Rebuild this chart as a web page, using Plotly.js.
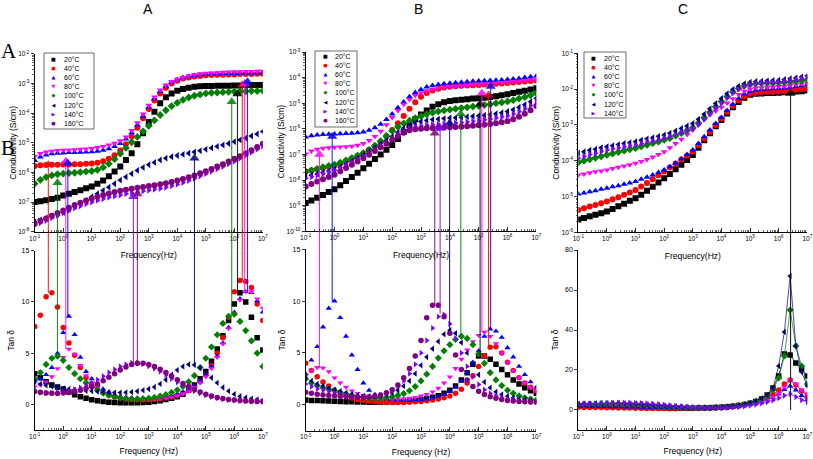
<!DOCTYPE html>
<html><head><meta charset="utf-8">
<script src="https://cdn.plot.ly/plotly-3.0.1.min.js"></script>
<style>html,body{margin:0;padding:0;background:#fff}#chart{width:813px;height:459px}</style>
</head><body><div id="chart"></div>
<script>
// ---------- DATA ----------
const freq = [0.1,0.158,0.251,0.398,0.631,1,1.58,2.51,3.98,6.31,10,15.8,25.1,39.8,63.1,100,158,251,398,631,1000,1580,2510,3980,6310,1e4,1.58e4,2.51e4,3.98e4,6.31e4,1e5,1.58e5,2.51e5,3.98e5,6.31e5,1e6,1.58e6,2.51e6,3.98e6,6.31e6,1e7];
const temps = ['20°C','40°C','60°C','80°C','100°C','120°C','140°C','160°C'];

// Panel A, conductivity (log10 of S/cm)
const logCondA20 = [-7.00,-6.97,-6.94,-6.90,-6.85,-6.78,-6.72,-6.66,-6.60,-6.53,-6.47,-6.38,-6.27,-6.13,-5.97,-5.80,-5.58,-5.35,-5.05,-4.68,-4.30,-3.95,-3.66,-3.46,-3.33,-3.24,-3.18,-3.14,-3.11,-3.09,-3.08,-3.08,-3.07,-3.07,-3.07,-3.06,-3.06,-3.05,-3.05,-3.05,-3.05];
const logCondA40 = [-5.78,-5.76,-5.75,-5.74,-5.74,-5.73,-5.73,-5.72,-5.72,-5.71,-5.70,-5.67,-5.62,-5.54,-5.42,-5.26,-5.05,-4.79,-4.49,-4.17,-3.86,-3.57,-3.33,-3.14,-3.00,-2.90,-2.83,-2.79,-2.76,-2.74,-2.72,-2.71,-2.70,-2.70,-2.69,-2.69,-2.68,-2.68,-2.68,-2.67,-2.67];
const logCondA60 = [-5.60,-5.48,-5.41,-5.37,-5.35,-5.34,-5.33,-5.33,-5.32,-5.31,-5.30,-5.28,-5.25,-5.20,-5.12,-5.02,-4.87,-4.66,-4.40,-4.10,-3.80,-3.51,-3.27,-3.09,-2.96,-2.87,-2.80,-2.76,-2.73,-2.70,-2.69,-2.68,-2.67,-2.66,-2.66,-2.65,-2.65,-2.64,-2.64,-2.63,-2.63];
const logCondA80 = [-5.45,-5.36,-5.31,-5.28,-5.26,-5.25,-5.24,-5.23,-5.22,-5.21,-5.19,-5.16,-5.12,-5.07,-5.01,-4.93,-4.80,-4.58,-4.32,-4.03,-3.73,-3.45,-3.22,-3.05,-2.93,-2.85,-2.79,-2.74,-2.70,-2.67,-2.65,-2.64,-2.63,-2.62,-2.61,-2.60,-2.60,-2.59,-2.59,-2.58,-2.58];
const logCondA100 = [-6.38,-6.25,-6.16,-6.10,-6.06,-6.04,-6.02,-6.01,-5.99,-5.97,-5.95,-5.91,-5.83,-5.71,-5.55,-5.36,-5.17,-4.98,-4.80,-4.61,-4.43,-4.24,-4.06,-3.90,-3.76,-3.65,-3.55,-3.47,-3.41,-3.37,-3.33,-3.31,-3.30,-3.29,-3.28,-3.27,-3.26,-3.26,-3.25,-3.25,-3.24];
const logCondA120 = [-7.67,-7.60,-7.54,-7.47,-7.41,-7.35,-7.25,-7.15,-7.05,-6.95,-6.82,-6.72,-6.61,-6.50,-6.38,-6.26,-6.15,-6.04,-5.93,-5.83,-5.74,-5.66,-5.58,-5.52,-5.47,-5.43,-5.39,-5.35,-5.31,-5.27,-5.22,-5.17,-5.12,-5.07,-5.02,-4.96,-4.90,-4.84,-4.77,-4.70,-4.62];
const logCondA140 = [-7.78,-7.70,-7.62,-7.53,-7.45,-7.36,-7.28,-7.20,-7.13,-7.06,-7.00,-6.94,-6.89,-6.84,-6.80,-6.76,-6.72,-6.69,-6.66,-6.63,-6.60,-6.57,-6.54,-6.50,-6.45,-6.40,-6.34,-6.27,-6.20,-6.12,-6.04,-5.96,-5.88,-5.80,-5.71,-5.62,-5.52,-5.42,-5.32,-5.22,-5.12];
const logCondA160 = [-7.72,-7.63,-7.55,-7.46,-7.37,-7.28,-7.19,-7.10,-7.02,-6.95,-6.88,-6.82,-6.76,-6.71,-6.66,-6.62,-6.58,-6.55,-6.52,-6.49,-6.46,-6.43,-6.40,-6.36,-6.32,-6.27,-6.22,-6.16,-6.10,-6.03,-5.96,-5.88,-5.80,-5.72,-5.63,-5.54,-5.45,-5.35,-5.25,-5.14,-5.03];

// Panel A, tan delta
const tanA20 = [3.0,2.6,2.2,1.9,1.7,1.5,1.2,0.95,0.75,0.6,0.45,0.35,0.28,0.22,0.18,0.16,0.15,0.15,0.16,0.18,0.22,0.28,0.36,0.48,0.6,0.75,1.0,1.4,1.9,2.5,3.2,4.2,5.4,6.7,8.2,9.8,10.9,10.0,8.5,6.5,5.3];
const tanA40 = [7.6,8.7,10.5,10.9,9.5,7.5,6.0,4.8,3.6,2.6,2.0,1.5,1.15,0.9,0.72,0.6,0.52,0.47,0.45,0.45,0.47,0.5,0.56,0.64,0.75,0.9,1.1,1.35,1.7,2.2,2.9,3.8,5.0,6.5,8.5,11.0,12.1,12.0,11.4,9.8,8.2];
const tanA60 = [2.3,2.5,2.9,3.6,5.0,7.0,8.6,6.8,4.6,3.2,2.5,1.9,1.5,1.2,0.95,0.8,0.7,0.65,0.62,0.62,0.63,0.66,0.7,0.78,0.88,1.0,1.2,1.45,1.8,2.3,2.9,3.7,4.7,6.0,7.5,9.0,10.3,11.0,10.9,10.1,9.0];
const tanA80 = [1.7,1.9,2.2,2.7,3.5,4.6,5.4,4.9,3.8,2.8,2.1,1.6,1.25,1.0,0.8,0.65,0.55,0.5,0.47,0.46,0.47,0.5,0.55,0.62,0.72,0.85,1.05,1.3,1.65,2.1,2.7,3.5,4.6,5.9,7.4,8.9,10.2,11.0,11.0,10.3,9.4];
const tanA100 = [2.5,3.1,3.9,4.5,4.7,4.3,3.6,3.0,2.5,2.1,1.7,1.4,1.1,0.9,0.75,0.62,0.55,0.52,0.52,0.55,0.6,0.68,0.8,0.95,1.15,1.4,1.75,2.2,2.8,3.6,4.5,5.6,6.8,7.9,8.6,8.8,8.1,7.2,6.2,5.0,3.7];
const tanA120 = [2.2,2.0,1.85,1.75,1.65,1.55,1.5,1.42,1.37,1.33,1.3,1.25,1.2,1.17,1.15,1.15,1.17,1.2,1.28,1.38,1.5,1.7,2.0,2.4,2.9,3.35,3.7,3.9,3.85,3.55,3.1,2.6,2.1,1.65,1.3,1.0,0.8,0.65,0.55,0.48,0.42];
const tanA140 = [1.2,1.15,1.12,1.12,1.15,1.22,1.32,1.45,1.62,1.85,2.1,2.4,2.75,3.1,3.4,3.7,3.9,4.05,4.05,3.95,3.75,3.5,3.2,2.85,2.5,2.15,1.85,1.55,1.3,1.08,0.9,0.75,0.62,0.52,0.45,0.4,0.35,0.32,0.3,0.28,0.26];
const tanA160 = [1.25,1.18,1.12,1.08,1.07,1.1,1.16,1.25,1.38,1.55,1.75,2.0,2.3,2.65,3.0,3.35,3.65,3.9,4.02,4.02,3.9,3.7,3.42,3.1,2.75,2.4,2.05,1.75,1.45,1.2,1.0,0.82,0.68,0.57,0.48,0.42,0.37,0.33,0.3,0.28,0.27];

// Panel B, conductivity (log10 of S/cm)
const logCondB20 = [-8.90,-8.80,-8.69,-8.58,-8.47,-8.36,-8.20,-8.04,-7.88,-7.71,-7.54,-7.36,-7.18,-7.00,-6.82,-6.63,-6.40,-6.12,-5.86,-5.63,-5.44,-5.28,-5.14,-5.04,-4.96,-4.91,-4.88,-4.86,-4.84,-4.82,-4.81,-4.79,-4.76,-4.73,-4.69,-4.65,-4.60,-4.55,-4.51,-4.46,-4.42];
const logCondB40 = [-7.67,-7.63,-7.58,-7.53,-7.48,-7.43,-7.35,-7.26,-7.16,-7.06,-6.95,-6.82,-6.67,-6.50,-6.29,-6.05,-5.78,-5.50,-5.22,-4.96,-4.75,-4.60,-4.50,-4.43,-4.39,-4.36,-4.34,-4.32,-4.31,-4.30,-4.29,-4.27,-4.26,-4.24,-4.23,-4.21,-4.19,-4.17,-4.15,-4.13,-4.11];
const logCondB60 = [-6.32,-6.27,-6.24,-6.22,-6.21,-6.20,-6.19,-6.18,-6.17,-6.15,-6.12,-6.06,-5.96,-5.82,-5.64,-5.42,-5.18,-4.95,-4.75,-4.58,-4.46,-4.37,-4.31,-4.27,-4.24,-4.22,-4.20,-4.18,-4.16,-4.14,-4.13,-4.12,-4.11,-4.10,-4.09,-4.07,-4.05,-4.03,-4.00,-3.97,-3.94];
const logCondB80 = [-6.98,-6.87,-6.80,-6.76,-6.74,-6.72,-6.71,-6.70,-6.68,-6.64,-6.57,-6.46,-6.30,-6.09,-5.84,-5.56,-5.28,-5.04,-4.85,-4.70,-4.59,-4.51,-4.45,-4.41,-4.38,-4.36,-4.34,-4.32,-4.30,-4.28,-4.27,-4.25,-4.23,-4.21,-4.19,-4.17,-4.15,-4.13,-4.11,-4.09,-4.07];
const logCondB100 = [-7.67,-7.62,-7.56,-7.50,-7.45,-7.40,-7.32,-7.23,-7.14,-7.05,-6.95,-6.82,-6.66,-6.48,-6.28,-6.08,-5.92,-5.79,-5.68,-5.58,-5.50,-5.43,-5.37,-5.32,-5.28,-5.25,-5.22,-5.19,-5.16,-5.13,-5.10,-5.07,-5.04,-5.00,-4.97,-4.93,-4.88,-4.82,-4.76,-4.69,-4.61];
const logCondB120 = [-7.86,-7.81,-7.76,-7.70,-7.65,-7.59,-7.49,-7.38,-7.27,-7.15,-7.02,-6.88,-6.74,-6.59,-6.45,-6.30,-6.14,-5.98,-5.86,-5.77,-5.71,-5.67,-5.64,-5.62,-5.60,-5.58,-5.57,-5.55,-5.53,-5.51,-5.49,-5.47,-5.44,-5.41,-5.37,-5.32,-5.25,-5.16,-5.06,-4.94,-4.81];
const logCondB140 = [-7.93,-7.87,-7.81,-7.75,-7.69,-7.62,-7.52,-7.41,-7.30,-7.19,-7.07,-6.94,-6.80,-6.66,-6.52,-6.37,-6.22,-6.09,-5.99,-5.93,-5.89,-5.86,-5.84,-5.82,-5.80,-5.78,-5.77,-5.75,-5.73,-5.70,-5.68,-5.65,-5.62,-5.58,-5.54,-5.49,-5.42,-5.33,-5.22,-5.09,-4.95];
const logCondB160 = [-8.25,-8.15,-8.06,-7.97,-7.88,-7.79,-7.66,-7.53,-7.40,-7.28,-7.15,-7.01,-6.87,-6.72,-6.58,-6.43,-6.28,-6.15,-6.06,-6.02,-6.00,-5.98,-5.97,-5.96,-5.95,-5.94,-5.93,-5.92,-5.90,-5.88,-5.86,-5.84,-5.81,-5.78,-5.74,-5.70,-5.63,-5.53,-5.41,-5.27,-5.11];

// Panel B, tan delta
const tanB20 = [0.45,0.42,0.4,0.38,0.36,0.34,0.32,0.3,0.28,0.27,0.26,0.25,0.25,0.25,0.26,0.27,0.29,0.32,0.36,0.42,0.5,0.6,0.72,0.88,1.1,1.4,1.8,2.4,3.1,3.9,4.7,4.7,4.4,3.9,3.4,2.9,2.4,2.0,1.65,1.35,1.1];
const tanB40 = [4.0,3.3,2.7,2.2,1.8,1.4,1.1,0.85,0.65,0.5,0.4,0.33,0.28,0.25,0.23,0.22,0.22,0.23,0.25,0.28,0.32,0.38,0.45,0.55,0.68,0.85,1.1,1.5,2.1,2.8,3.7,4.7,5.55,5.6,5.0,4.1,3.3,2.6,2.1,1.7,1.35];
const tanB60 = [3.0,4.3,5.6,7.5,9.3,10.0,8.4,6.6,4.8,3.4,2.1,1.4,1.0,0.75,0.6,0.5,0.45,0.42,0.42,0.44,0.48,0.55,0.65,0.8,1.0,1.3,1.7,2.3,3.1,4.1,5.2,6.6,7.3,7.1,6.5,5.5,4.6,3.7,2.9,2.2,1.7];
const tanB80 = [2.8,3.3,3.6,3.55,3.2,2.6,2.1,1.7,1.35,1.1,0.9,0.75,0.65,0.58,0.55,0.54,0.55,0.58,0.64,0.72,0.85,1.0,1.25,1.6,2.1,2.7,3.5,4.4,5.3,6.1,6.7,7.0,6.6,5.9,5.0,4.1,3.3,2.6,2.1,1.65,1.3];
const tanB100 = [2.5,2.1,1.85,1.65,1.5,1.38,1.2,1.05,0.92,0.8,0.72,0.66,0.64,0.65,0.7,0.78,0.9,1.08,1.35,1.75,2.3,2.95,3.7,4.5,5.2,5.8,6.3,6.6,6.4,5.8,4.9,4.0,3.1,2.4,1.85,1.4,1.1,0.85,0.68,0.55,0.45];
const tanB120 = [2.65,2.3,2.0,1.8,1.6,1.45,1.3,1.15,1.02,0.92,0.85,0.82,0.83,0.88,0.98,1.15,1.4,1.8,2.3,3.0,3.8,4.6,5.4,6.1,6.8,7.2,6.9,6.0,5.0,3.9,2.9,2.2,1.65,1.25,1.0,0.82,0.68,0.57,0.49,0.43,0.38];
const tanB140 = [2.0,1.75,1.55,1.4,1.27,1.15,1.02,0.92,0.84,0.78,0.75,0.76,0.82,0.92,1.1,1.35,1.75,2.3,3.0,3.9,5.0,6.2,7.4,8.5,8.7,7.8,6.4,5.0,3.7,2.7,1.95,1.45,1.1,0.85,0.68,0.56,0.47,0.4,0.35,0.31,0.28];
const tanB160 = [1.2,1.1,1.02,0.95,0.9,0.86,0.82,0.78,0.75,0.72,0.72,0.75,0.82,0.95,1.15,1.45,1.9,2.6,3.5,4.7,6.2,8.4,9.6,9.6,8.5,6.9,4.8,3.4,2.4,1.75,1.3,1.0,0.78,0.62,0.5,0.42,0.36,0.32,0.29,0.27,0.25];

// Panel C, conductivity (log10 of S/cm)
const logCondC20 = [-5.64,-5.60,-5.55,-5.51,-5.47,-5.42,-5.35,-5.27,-5.20,-5.12,-5.05,-4.95,-4.84,-4.73,-4.61,-4.49,-4.37,-4.24,-4.11,-3.98,-3.84,-3.64,-3.43,-3.23,-3.04,-2.86,-2.68,-2.51,-2.36,-2.24,-2.16,-2.13,-2.12,-2.11,-2.11,-2.10,-2.09,-2.08,-2.07,-2.06,-2.04];
const logCondC40 = [-5.38,-5.33,-5.28,-5.24,-5.19,-5.14,-5.08,-5.02,-4.95,-4.89,-4.82,-4.72,-4.62,-4.52,-4.41,-4.30,-4.19,-4.08,-3.97,-3.86,-3.75,-3.57,-3.38,-3.19,-3.00,-2.82,-2.64,-2.47,-2.32,-2.20,-2.13,-2.10,-2.09,-2.08,-2.08,-2.07,-2.06,-2.04,-2.02,-2.00,-1.98];
const logCondC60 = [-4.93,-4.90,-4.87,-4.84,-4.80,-4.77,-4.73,-4.70,-4.66,-4.62,-4.58,-4.52,-4.46,-4.40,-4.33,-4.26,-4.17,-4.07,-3.95,-3.83,-3.70,-3.52,-3.33,-3.14,-2.96,-2.79,-2.60,-2.42,-2.26,-2.14,-2.07,-2.03,-2.01,-2.00,-1.99,-1.98,-1.97,-1.95,-1.93,-1.91,-1.88];
const logCondC80 = [-4.40,-4.37,-4.34,-4.31,-4.29,-4.26,-4.22,-4.18,-4.15,-4.11,-4.07,-4.02,-3.97,-3.90,-3.83,-3.75,-3.64,-3.52,-3.40,-3.27,-3.14,-3.00,-2.85,-2.72,-2.61,-2.51,-2.39,-2.27,-2.15,-2.06,-2.00,-1.97,-1.96,-1.95,-1.94,-1.93,-1.92,-1.90,-1.88,-1.86,-1.84];
const logCondC100 = [-4.05,-4.00,-3.96,-3.92,-3.88,-3.84,-3.80,-3.76,-3.72,-3.68,-3.65,-3.60,-3.56,-3.51,-3.47,-3.42,-3.37,-3.30,-3.23,-3.16,-3.08,-2.95,-2.80,-2.64,-2.49,-2.35,-2.21,-2.08,-1.98,-1.91,-1.87,-1.85,-1.84,-1.83,-1.83,-1.82,-1.81,-1.80,-1.78,-1.76,-1.74];
const logCondC120 = [-3.79,-3.75,-3.71,-3.68,-3.64,-3.61,-3.58,-3.55,-3.52,-3.50,-3.47,-3.43,-3.39,-3.36,-3.32,-3.28,-3.23,-3.17,-3.10,-3.03,-2.96,-2.84,-2.70,-2.55,-2.40,-2.26,-2.13,-2.01,-1.92,-1.85,-1.81,-1.79,-1.78,-1.77,-1.76,-1.75,-1.73,-1.71,-1.69,-1.66,-1.63];
const logCondC140 = [-3.93,-3.88,-3.83,-3.79,-3.74,-3.70,-3.67,-3.64,-3.61,-3.58,-3.56,-3.52,-3.48,-3.45,-3.41,-3.37,-3.32,-3.27,-3.21,-3.16,-3.10,-2.98,-2.84,-2.69,-2.54,-2.40,-2.25,-2.11,-2.00,-1.92,-1.87,-1.84,-1.83,-1.82,-1.81,-1.80,-1.78,-1.76,-1.73,-1.70,-1.67];

// Panel C, tan delta
const tanC20 = [2.0,2.0,1.9,1.9,1.85,1.8,1.75,1.7,1.6,1.5,1.4,1.3,1.2,1.1,1.0,0.95,0.9,0.85,0.85,0.85,0.9,0.95,1.0,1.1,1.25,1.4,1.6,1.9,2.3,2.8,3.4,4.3,5.5,7.5,11.0,17.0,28.0,27.5,23.5,20.5,17.0];
const tanC40 = [1.3,1.3,1.25,1.2,1.2,1.15,1.1,1.05,1.0,0.95,0.9,0.85,0.8,0.75,0.72,0.7,0.68,0.68,0.7,0.72,0.76,0.82,0.9,1.0,1.15,1.3,1.5,1.8,2.2,2.7,3.3,4.0,5.0,6.2,7.8,10.0,13.0,15.0,12.5,9.5,7.0];
const tanC60 = [1.8,1.8,1.75,1.7,1.7,1.65,1.6,1.55,1.5,1.45,1.4,1.35,1.3,1.25,1.2,1.15,1.1,1.05,1.0,1.0,1.0,1.0,1.05,1.1,1.2,1.3,1.45,1.65,1.95,2.3,2.8,3.4,4.2,5.1,6.3,8.0,10.2,12.0,10.0,7.2,5.2];
const tanC80 = [2.4,2.4,2.45,2.5,2.5,2.55,2.55,2.5,2.45,2.4,2.3,2.2,2.05,1.9,1.75,1.6,1.45,1.3,1.2,1.1,1.05,1.0,1.0,1.05,1.1,1.2,1.35,1.55,1.85,2.2,2.7,3.3,4.1,5.1,6.4,8.2,11.5,15.0,13.0,10.0,8.0];
const tanC100 = [2.8,2.9,2.95,3.0,3.05,3.1,3.1,3.05,3.0,2.9,2.8,2.65,2.5,2.3,2.1,1.9,1.7,1.5,1.35,1.2,1.1,1.05,1.05,1.1,1.2,1.35,1.55,1.85,2.2,2.7,3.3,4.2,5.4,7.0,10.0,16.0,27.0,50.0,32.0,22.0,13.0];
const tanC120 = [3.0,3.1,3.2,3.3,3.35,3.4,3.4,3.35,3.3,3.2,3.1,2.95,2.8,2.6,2.4,2.15,1.9,1.7,1.5,1.35,1.2,1.1,1.1,1.15,1.25,1.4,1.6,1.9,2.3,2.8,3.5,4.5,5.8,7.5,11.0,22.0,39.0,67.0,32.0,19.0,12.0];
const tanC140 = [3.0,3.1,3.2,3.3,3.4,3.5,3.55,3.6,3.6,3.6,3.55,3.45,3.3,3.1,2.85,2.6,2.3,2.0,1.75,1.5,1.3,1.15,1.05,1.0,1.0,1.05,1.15,1.3,1.5,1.8,2.2,2.7,3.3,4.0,4.9,6.0,7.2,8.0,6.5,5.0,4.0];

// Relaxation-peak arrows: frequency, series index, conductivity at arrowhead (log10), tan delta at peak
const arrowAFreq = [0.30,0.63,1.23,1.45,288,398,4.0e4,8.1e5,1.29e6,1.9e6,2.3e6,2.9e6];
const arrowASeries = [1,4,3,2,6,7,5,4,0,1,3,2];
const arrowALogCond = [-5.74,-6.35,-5.62,-5.69,-6.82,-6.73,-5.52,-3.61,-3.35,-3.05,-3.00,-2.94];
const arrowATan = [10.9,4.7,5.4,8.6,4.05,4.05,3.9,8.7,10.9,12.1,11.0,11.0];

const arrowBFreq = [0.30,0.83,3.0e3,4.6e3,9.8e3,2.4e4,1.12e5,1.29e5,2.2e5,2.6e5];
const arrowBSeries = [3,2,7,6,5,4,0,3,1,2];
const arrowBLogCond = [-7.00,-6.30,-6.17,-5.98,-5.78,-5.42,-5.03,-4.61,-4.68,-4.35];
const arrowBTan = [3.6,10.0,9.7,8.8,7.2,6.6,4.75,7.0,5.6,7.3];

const arrowCFreq = [2.6e6];
const arrowCSeries = [0];
const arrowCLogCond = [-2.12];
const arrowCTan = [0];

// Tick labels
const freqTickVals = [0.1,1,10,100,1000,1e4,1e5,1e6,1e7];
const freqTickText = ['10<sup>-1</sup>','10<sup>0</sup>','10<sup>1</sup>','10<sup>2</sup>','10<sup>3</sup>','10<sup>4</sup>','10<sup>5</sup>','10<sup>6</sup>','10<sup>7</sup>'];
const condTickValsA = [1e-8,1e-7,1e-6,1e-5,1e-4,1e-3,1e-2];
const condTickTextA = ['10<sup>-8</sup>','10<sup>-7</sup>','10<sup>-6</sup>','10<sup>-5</sup>','10<sup>-4</sup>','10<sup>-3</sup>','10<sup>-2</sup>'];
const condTickValsB = [1e-10,1e-9,1e-8,1e-7,1e-6,1e-5,1e-4,1e-3];
const condTickTextB = ['10<sup>-10</sup>','10<sup>-9</sup>','10<sup>-8</sup>','10<sup>-7</sup>','10<sup>-6</sup>','10<sup>-5</sup>','10<sup>-4</sup>','10<sup>-3</sup>'];
const condTickValsC = [1e-6,1e-5,1e-4,1e-3,1e-2,1e-1];
const condTickTextC = ['10<sup>-6</sup>','10<sup>-5</sup>','10<sup>-4</sup>','10<sup>-3</sup>','10<sup>-2</sup>','10<sup>-1</sup>'];

// ---------- STYLE ----------
const colors = ['#000000','#ff0000','#0000ff','#ff00ff','#008000','#000080','#8000ff','#800080'];
const symbols = ['square','circle','triangle-up','triangle-down','diamond','triangle-left','triangle-right','circle'];
const glyphs = ['■','●','▲','▼','◆','◀','▶','●'];
const FONT = 'Liberation Sans, Arial, sans-serif';

const panels = [
  {cond:[logCondA20,logCondA40,logCondA60,logCondA80,logCondA100,logCondA120,logCondA140,logCondA160],
   tan:[tanA20,tanA40,tanA60,tanA80,tanA100,tanA120,tanA140,tanA160],
   aF:arrowAFreq, aS:arrowASeries, aC:arrowALogCond, aT:arrowATan,
   xd:[0.0427,0.3233], td:[0.4952,0.8824], bd:[0.0632,0.4538],
   cr:[-8,-2], cv:condTickValsA, ct:condTickTextA, tr:[-2.5,15], dt:5, lines:false,
   leg:{box:[44,53,94,129], gx:53, tx:62, row0:59.5}},
  {cond:[logCondB20,logCondB40,logCondB60,logCondB80,logCondB100,logCondB120,logCondB140,logCondB160],
   tan:[tanB20,tanB40,tanB60,tanB80,tanB100,tanB120,tanB140,tanB160],
   aF:arrowBFreq, aS:arrowBSeries, aC:arrowBLogCond, aT:arrowBTan,
   xd:[0.3760,0.6597], td:[0.4961,0.8867], bd:[0.0617,0.4569],
   cr:[-10,-3], cv:condTickValsB, ct:condTickTextB, tr:[-2.5,15], dt:5, lines:false,
   leg:{box:[315,51,357,127], gx:325, tx:333, row0:56.5}},
  {cond:[logCondC20,logCondC40,logCondC60,logCondC80,logCondC100,logCondC120,logCondC140],
   tan:[tanC20,tanC40,tanC60,tanC80,tanC100,tanC120,tanC140],
   aF:arrowCFreq, aS:arrowCSeries, aC:arrowCLogCond, aT:arrowCTan,
   xd:[0.7113,0.9930], td:[0.4939,0.8839], bd:[0.0632,0.4553],
   cr:[-6,-1], cv:condTickValsC, ct:condTickTextC, tr:[-10,80], dt:20, lines:true,
   leg:{box:[584,52,626,118], gx:593, tx:602, row0:59}}
];

function minorVals(decades){
  const out=[];
  decades.forEach(d=>{for(let k=2;k<=9;k++) out.push(k*d);});
  return out;
}

const W=813, H=459;
const traces=[], shapes=[], annotations=[];
const layout = {width:W, height:H, margin:{l:0,r:0,t:0,b:0}, paper_bgcolor:'#fff', plot_bgcolor:'rgba(0,0,0,0)',
  showlegend:false, font:{family:FONT, color:'#000'}};

panels.forEach((p,c)=>{
  const n1 = 2*c+1, n2 = 2*c+2;
  const xT = 'x'+(n1===1?'':n1), yT = 'y'+(n1===1?'':n1);
  const xB = 'x'+n2, yB = 'y'+n2;
  const axT = n1===1?'':n1;
  const xAxisBase = {type:'log', range:[-1,7], domain:p.xd, tickmode:'array', tickvals:freqTickVals, ticktext:freqTickText,
    ticks:'inside', ticklen:4, tickwidth:0.8, tickcolor:'#000', showline:true, linecolor:'#000', linewidth:1,
    showgrid:false, zeroline:false, tickfont:{size:6.5, family:FONT}, automargin:false,
    minor:{tickmode:'array', tickvals:minorVals(freqTickVals.slice(0,-1)), ticks:'inside', ticklen:2, tickwidth:0.6, tickcolor:'#000', showgrid:false}};
  layout['xaxis'+axT] = Object.assign({}, xAxisBase, {anchor:yT,
    title:{text:'Frequency(Hz)', font:{size:8.5, family:FONT}, standoff:11}});
  layout['xaxis'+n2] = Object.assign({}, xAxisBase, {anchor:yB,
    title:{text:'Frequency (Hz)', font:{size:8.5, family:FONT}, standoff:9}});
  layout['yaxis'+axT] = {type:'log', range:p.cr, domain:p.td, anchor:xT, tickmode:'array', tickvals:p.cv, ticktext:p.ct,
    ticks:'outside', ticklen:3, tickwidth:0.8, tickcolor:'#000', showline:true, linecolor:'#000', linewidth:1,
    showgrid:false, zeroline:false, tickfont:{size:6.5, family:FONT}, automargin:false,
    minor:{tickmode:'array', tickvals:minorVals(p.cv.slice(0,-1)), ticks:'outside', ticklen:1.5, tickwidth:0.6, tickcolor:'#000', showgrid:false},
    title:{text:'Conductivity (S/cm)', font:{size:8.5, family:FONT}, standoff:0}};
  layout['yaxis'+n2] = {range:p.tr, domain:p.bd, anchor:xB, tick0:0, dtick:p.dt,
    ticks:'outside', ticklen:3, tickwidth:0.8, tickcolor:'#000', showline:true, linecolor:'#000', linewidth:1,
    showgrid:false, zeroline:false, tickfont:{size:7, family:FONT}, automargin:false,
    title:{text:'Tan δ', font:{size:8.5, family:FONT}, standoff:5}};

  p.cond.forEach((s,i)=>{
    traces.push({type:'scatter', mode:'markers', name:temps[i], x:freq, y:s.map(v=>Math.pow(10,v)),
      xaxis:xT, yaxis:yT, marker:{symbol:symbols[i], color:colors[i], size:6, line:{width:0}}});
  });
  p.tan.forEach((s,i)=>{
    traces.push({type:'scatter', mode:p.lines?'lines+markers':'markers', name:temps[i], x:freq, y:s,
      xaxis:xB, yaxis:yB, line:{color:colors[i], width:0.7},
      marker:{symbol:symbols[i], color:colors[i], size:5.5, line:{width:0}}});
  });
  // arrows
  p.aF.forEach((f,k)=>{
    const col = colors[p.aS[k]];
    const tip = Math.pow(10,p.aC[k]);
    traces.push({type:'scatter', mode:'lines', x:[f,f], y:[tip,1e-14], xaxis:xT, yaxis:yT,
      line:{color:col, width:1.1}, opacity:0.85, hoverinfo:'skip'});
    traces.push({type:'scatter', mode:'markers', x:[f], y:[tip], xaxis:xT, yaxis:yT,
      marker:{symbol:'triangle-up', size:9, color:col, line:{width:0}}, opacity:0.85, hoverinfo:'skip'});
    traces.push({type:'scatter', mode:'lines', x:[f,f], y:[p.aT[k],1000], xaxis:xB, yaxis:yB,
      line:{color:col, width:1.1}, opacity:0.85, hoverinfo:'skip'});
    shapes.push({type:'line', xref:xT, yref:'paper', x0:f, x1:f, y0:p.bd[1], y1:p.td[0],
      line:{color:col, width:1.1}, opacity:0.85});
  });
  // legend: framed box, symbol column and label column
  const nS = p.cond.length, L = p.leg;
  shapes.push({type:'rect', xref:'paper', yref:'paper', x0:L.box[0]/W, x1:L.box[2]/W, y0:1-L.box[3]/H, y1:1-L.box[1]/H,
    line:{color:'#444', width:0.8}, fillcolor:'#fff', layer:'above'});
  const gTxt = glyphs.slice(0,nS).map((g,i)=>`<span style="color:${colors[i]};font-size:5px">${g}</span>`).join('<br>');
  const lTxt = temps.slice(0,nS).join('<br>');
  annotations.push({xref:'paper', yref:'paper', x:L.gx/W, y:1-(L.row0-5.5)/H, xanchor:'center', yanchor:'top',
    align:'center', showarrow:false, text:gTxt, font:{size:7, family:'DejaVu Sans, sans-serif', color:'#000'}});
  annotations.push({xref:'paper', yref:'paper', x:L.tx/W, y:1-(L.row0-5.5)/H, xanchor:'left', yanchor:'top',
    align:'left', showarrow:false, text:lTxt, font:{size:7, family:FONT, color:'#000'}});
});

// column letters
[['A',148],['B',418],['C',683]].forEach(([t,x])=>{
  annotations.push({xref:'paper', yref:'paper', x:x/W, y:1-9/H, text:t, showarrow:false,
    font:{size:14, family:FONT, color:'#000'}, xanchor:'center', yanchor:'middle'});
});
annotations.push({xref:'paper', yref:'paper', x:8.5/W, y:1-51/H, text:'A', showarrow:false,
  font:{size:21, family:'Liberation Serif, Times New Roman, serif', color:'#000'}, xanchor:'center', yanchor:'middle'});
annotations.push({xref:'paper', yref:'paper', x:8/W, y:1-148/H, text:'B', showarrow:false,
  font:{size:21, family:'Liberation Serif, Times New Roman, serif', color:'#000'}, xanchor:'center', yanchor:'middle'});

layout.shapes = shapes;
layout.annotations = annotations;

Plotly.newPlot('chart', traces, layout, {displayModeBar:false, staticPlot:true});
</script>
</body></html>
